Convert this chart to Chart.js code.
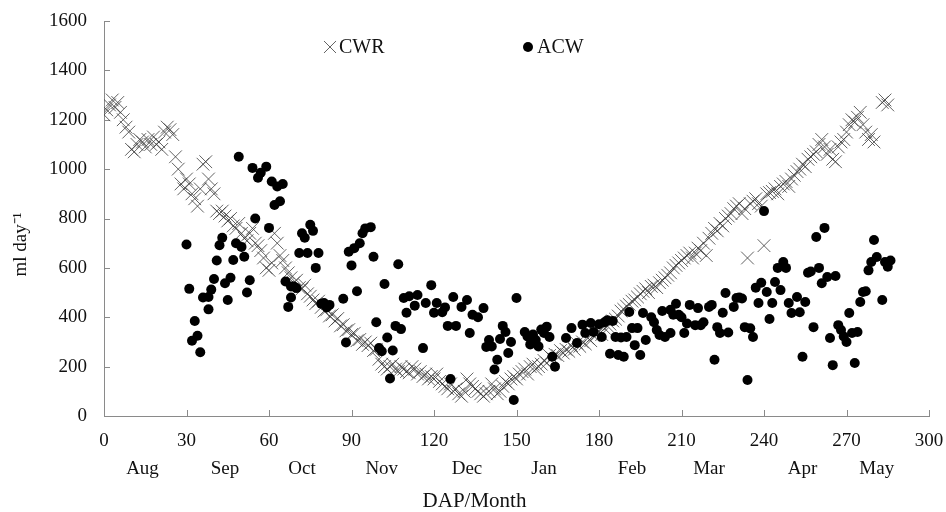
<!DOCTYPE html>
<html>
<head>
<meta charset="utf-8">
<script src="https://cdn.jsdelivr.net/npm/chart.js@4.4.0/dist/chart.umd.min.js"></script>
<style>
  html, body { margin: 0; padding: 0; background: #fff; }
</style>
</head>
<body>
<canvas id="chart" width="946" height="512"></canvas>
<script>
// CWR: crop water requirement, one reading per day after planting
const cwrDays = [
  0, 1, 2, 3, 4, 5, 6, 7, 8, 9,
  10, 11, 12, 13, 14, 15, 16, 17, 18, 19,
  20, 21, 22, 23, 24, 25, 26, 27, 28, 29,
  30, 31, 32, 33, 34, 35, 36, 37, 38, 39,
  40, 41, 42, 43, 44, 45, 46, 47, 48, 49,
  50, 51, 52, 53, 54, 55, 56, 57, 58, 59,
  60, 61, 62, 63, 64, 65, 66, 67, 68, 69,
  70, 71, 72, 73, 74, 75, 76, 77, 78, 79,
  80, 81, 82, 83, 84, 85, 86, 87, 88, 89,
  90, 91, 92, 93, 94, 95, 96, 97, 98, 99,
  100, 101, 102, 103, 104, 105, 106, 107, 108, 109,
  110, 111, 112, 113, 114, 115, 116, 117, 118, 119,
  120, 121, 122, 123, 124, 125, 126, 127, 128, 129,
  130, 131, 132, 133, 134, 135, 136, 137, 138, 139,
  140, 141, 142, 143, 144, 145, 146, 147, 148, 149,
  150, 151, 152, 153, 154, 155, 156, 157, 158, 159,
  160, 161, 162, 163, 164, 165, 166, 167, 168, 169,
  170, 171, 172, 173, 174, 175, 176, 177, 178, 179,
  180, 181, 182, 183, 184, 185, 186, 187, 188, 189,
  190, 191, 192, 193, 194, 195, 196, 197, 198, 199,
  200, 201, 202, 203, 204, 205, 206, 207, 208, 209,
  210, 211, 212, 213, 214, 215, 216, 217, 218, 219,
  220, 221, 222, 223, 224, 225, 226, 227, 228, 229,
  230, 231, 232, 233, 234, 235, 236, 237, 238, 239,
  240, 241, 242, 243, 244, 245, 246, 247, 248, 249,
  250, 251, 252, 253, 254, 255, 256, 257, 258, 259,
  260, 261, 262, 263, 264, 265, 266, 267, 268, 269,
  270, 271, 272, 273, 274, 275, 276, 277, 278, 279,
  280, 283, 284, 285
];
const cwrMl = [
  1220, 1240, 1260, 1280, 1250, 1270, 1230, 1200, 1170, 1150,
  1080, 1070, 1100, 1120, 1110, 1090, 1120, 1100, 1130, 1100,
  1110, 1080, 1150, 1170, 1160, 1140, 1050, 1000, 940, 920,
  960, 940, 900, 880, 850, 920, 1020, 1030, 960, 920,
  900, 830, 820, 830, 810, 790, 800, 770, 760, 780,
  740, 720, 710, 740, 760, 700, 690, 670, 640, 600,
  590, 620, 740, 700, 650, 630, 600, 580, 560, 540,
  550, 520, 515, 530, 495, 485, 470, 455, 465, 440,
  425, 430, 405, 410, 385, 395, 365, 370, 345, 350,
  330, 335, 305, 310, 290, 300, 285, 295, 265, 270,
  230, 210, 200, 190, 200, 210, 190, 180, 200, 190,
  180, 175, 200, 190, 170, 180, 160, 170, 150, 160,
  150, 170, 140, 130, 120, 110, 130, 100, 110, 90,
  80, 100, 150, 130, 120, 110, 100, 90, 80, 90,
  100, 130, 110, 90, 100, 120, 140, 130, 150, 160,
  150, 170, 180, 190, 170, 200, 210, 190, 200, 210,
  225, 215, 245, 235, 250, 245, 265, 255, 270, 262,
  285, 270, 295, 282, 300, 292, 315, 305, 325, 330,
  345, 330, 355, 365, 372, 385, 392, 405, 425, 432,
  445, 452, 465, 470, 482, 495, 505, 515, 500, 525,
  530, 520, 540, 550, 560, 570, 580, 600, 610, 620,
  630, 640, 650, 660, 640, 660, 680, 670, 700, 650,
  720, 740, 760, 750, 780, 770, 800, 810, 820, 840,
  850, 860, 820, 840, 640, 860, 870, 880, 860, 850,
  690, 900, 905, 910, 920, 900, 930, 940, 950, 930,
  960, 975, 990, 1000, 1020, 1010, 1040, 1050, 1060, 1070,
  1100, 1120, 1090, 1060, 1080, 1040, 1030, 1090, 1110, 1120,
  1150, 1180, 1200, 1190, 1210, 1230, 1180, 1150, 1120, 1140,
  1110, 1270, 1280, 1260
];

// ACW: actual consumption of water
const acwDays = [
  30, 31, 32, 33, 34, 35, 36, 38, 38, 39,
  40, 41, 42, 43, 44, 45, 46, 47, 48, 49,
  50, 51, 52, 53, 54, 55, 56, 57, 59, 60,
  61, 62, 63, 64, 65, 66, 67, 68, 68, 69,
  70, 71, 72, 73, 74, 75, 76, 77, 78, 79,
  80, 81, 82, 87, 88, 89, 90, 91, 92, 93,
  94, 95, 97, 98, 99, 100, 101, 102, 103, 104,
  105, 106, 107, 108, 109, 110, 111, 113, 114, 116,
  117, 119, 120, 121, 123, 124, 125, 126, 127, 128,
  130, 132, 133, 134, 136, 138, 139, 140, 141, 142,
  143, 144, 145, 146, 147, 148, 149, 150, 153, 154,
  155, 156, 157, 158, 159, 160, 161, 162, 163, 164,
  168, 170, 172, 174, 175, 177, 178, 180, 181, 182,
  183, 184, 185, 186, 187, 188, 189, 190, 191, 192,
  193, 194, 195, 196, 197, 199, 200, 201, 202, 203,
  204, 206, 206, 207, 208, 209, 210, 211, 212, 213,
  215, 216, 217, 218, 220, 221, 222, 223, 224, 225,
  226, 227, 229, 230, 231, 232, 233, 234, 235, 236,
  237, 238, 239, 240, 241, 242, 243, 244, 245, 246,
  247, 248, 249, 250, 252, 253, 254, 255, 256, 257,
  258, 259, 260, 261, 262, 263, 264, 265, 266, 267,
  268, 269, 270, 271, 272, 273, 274, 275, 276, 277,
  278, 279, 280, 281, 283, 284, 285, 286
];
const acwMl = [
  695, 515, 305, 385, 325, 258, 480, 482, 432, 512,
  555, 630, 692, 722, 538, 470, 560, 632, 700, 1050,
  685, 645, 500, 550, 1005, 800, 965, 985, 1010, 762,
  950, 855, 930, 870, 940, 545, 442, 525, 480, 525,
  518, 660, 740, 722, 660, 775, 750, 600, 660, 455,
  458, 440, 450, 475, 298, 665, 610, 680, 505, 700,
  740, 760, 765, 645, 380, 275, 262, 535, 318, 152,
  265, 365, 615, 352, 478, 418, 485, 447, 490, 275,
  458, 530, 418, 458, 420, 440, 365, 150, 482, 365,
  442, 470, 336, 410, 400, 437, 280, 308, 282, 188,
  228, 312, 365, 340, 255, 300, 65, 478, 340, 322,
  290, 330, 308, 282, 350, 336, 362, 320, 240, 200,
  316, 356, 296, 370, 336, 377, 340, 372, 320, 380,
  388, 252, 385, 320, 247, 318, 240, 320, 421, 356,
  287, 356, 247, 417, 308, 400, 380, 348, 328, 425,
  320, 430, 336, 410, 455, 410, 400, 336, 375, 450,
  368, 437, 368, 380, 442, 450, 228, 360, 336, 418,
  498, 338, 442, 478, 480, 476, 360, 146, 355, 320,
  520, 458, 540, 830, 502, 393, 458, 543, 600, 510,
  624, 600, 458, 417, 482, 420, 240, 462, 580, 585,
  360, 725, 600, 538, 762, 563, 316, 206, 567, 368,
  348, 322, 300, 417, 336, 215, 340, 462, 502, 505,
  590, 624, 713, 644, 470, 624, 605, 630
];

// second row under the day ticks
const monthDays = [14, 44, 72, 101, 132, 160, 192, 220, 254, 281];
const monthNames = ['Aug', 'Sep', 'Oct', 'Nov', 'Dec', 'Jan', 'Feb', 'Mar', 'Apr', 'May'];

const SERIF = "'Liberation Serif', 'Times New Roman', serif";
Chart.defaults.font.family = SERIF;
Chart.defaults.font.size = 19;
Chart.defaults.color = '#111';

const AXIS_GREY = '#8a8a8a';

// ticks in the original point into the plot
const innerTicks = {
  id: 'innerTicks',
  beforeDatasetsDraw(chart) {
    const { ctx, scales: { x, y } } = chart;
    ctx.save();
    ctx.strokeStyle = AXIS_GREY;
    ctx.lineWidth = 1;
    ctx.beginPath();
    x.ticks.forEach(t => {
      const px = Math.round(x.getPixelForValue(t.value)) + 0.5;
      ctx.moveTo(px, x.top);
      ctx.lineTo(px, x.top - 6);
    });
    y.ticks.forEach(t => {
      const py = Math.round(y.getPixelForValue(t.value)) + 0.5;
      ctx.moveTo(y.right, py);
      ctx.lineTo(y.right + 6, py);
    });
    ctx.stroke();
    ctx.restore();
  }
};

// legend sits inside the plot, two entries far apart
const legendSpots = [[330, 47], [528, 47]];
const inlineLegend = {
  id: 'inlineLegend',
  afterDraw(chart) {
    const ctx = chart.ctx;
    ctx.save();
    chart.data.datasets.forEach((ds, i) => {
      const [lx, ly] = legendSpots[i];
      ctx.fillStyle = ds.pointBackgroundColor;
      ctx.strokeStyle = ds.pointBorderColor;
      Chart.helpers.drawPoint(ctx, {
        pointStyle: ds.pointStyle,
        radius: ds.legendRadius,
        borderWidth: ds.pointBorderWidth,
        rotation: 0
      }, lx, ly);
      ctx.fillStyle = '#111';
      ctx.font = '20px ' + SERIF;
      ctx.textBaseline = 'middle';
      ctx.textAlign = 'left';
      ctx.fillText(ds.label, lx + 9, ly + 1);
    });
    ctx.restore();
  }
};

const cwrPoints = cwrDays.map((d, i) => ({ x: d, y: cwrMl[i] }));
const acwPoints = acwDays.map((d, i) => ({ x: d, y: acwMl[i] }));

new Chart(document.getElementById('chart'), {
  type: 'scatter',
  data: {
    datasets: [
      {
        label: 'CWR',
        data: cwrPoints,
        pointStyle: 'crossRot',
        pointRadius: 9,
        legendRadius: 8.5,
        pointBorderWidth: 1,
        pointBorderColor: 'rgba(60,60,60,0.8)',
        pointBackgroundColor: 'rgba(0,0,0,0)',
        order: 2
      },
      {
        label: 'ACW',
        data: acwPoints,
        pointStyle: 'circle',
        pointRadius: 5,
        legendRadius: 5,
        pointBorderWidth: 0,
        pointBorderColor: '#000',
        pointBackgroundColor: '#000',
        order: 1
      }
    ]
  },
  options: {
    responsive: false,
    animation: false,
    layout: { padding: { top: 21, right: 17, left: 0, bottom: 0 } },
    plugins: {
      legend: { display: false },
      tooltip: { enabled: false }
    },
    scales: {
      x: {
        type: 'linear',
        position: 'bottom',
        weight: 0,
        min: 0,
        max: 300,
        ticks: { stepSize: 30, padding: 14, maxRotation: 0, autoSkip: false },
        grid: { drawOnChartArea: false, drawTicks: false },
        border: { color: AXIS_GREY, width: 1 },
        // tick padding would otherwise be added to the side overflow
        afterFit: s => { s.height = 40; s.paddingLeft = 0; s.paddingRight = 12; }
      },
      month: {
        type: 'linear',
        position: 'bottom',
        weight: 1,
        min: 0,
        max: 300,
        afterBuildTicks: s => { s.ticks = monthDays.map(v => ({ value: v })); },
        ticks: { callback: (v, i) => monthNames[i], padding: 2, maxRotation: 0, autoSkip: false },
        grid: { drawOnChartArea: false, drawTicks: false },
        border: { display: false },
        title: {
          display: true,
          text: 'DAP/Month                ',
          font: { size: 21, lineHeight: 1 },
          padding: { top: 0, bottom: 0 }
        },
        afterFit: s => { s.height = 56; s.paddingLeft = 0; s.paddingRight = 0; }
      },
      y: {
        min: 0,
        max: 1600,
        ticks: { stepSize: 200, padding: 17, callback: v => String(v) },
        grid: { drawOnChartArea: false, drawTicks: false },
        border: { color: AXIS_GREY, width: 1 },
        title: {
          display: true,
          text: 'ml day\u207B\u00B9           ',
          font: { size: 19 },
          padding: { top: 10, bottom: 0 }
        },
        afterFit: s => { s.width = 104; s.paddingTop = 12; s.paddingBottom = 0; }
      }
    }
  },
  plugins: [innerTicks, inlineLegend]
});
</script>
</body>
</html>
